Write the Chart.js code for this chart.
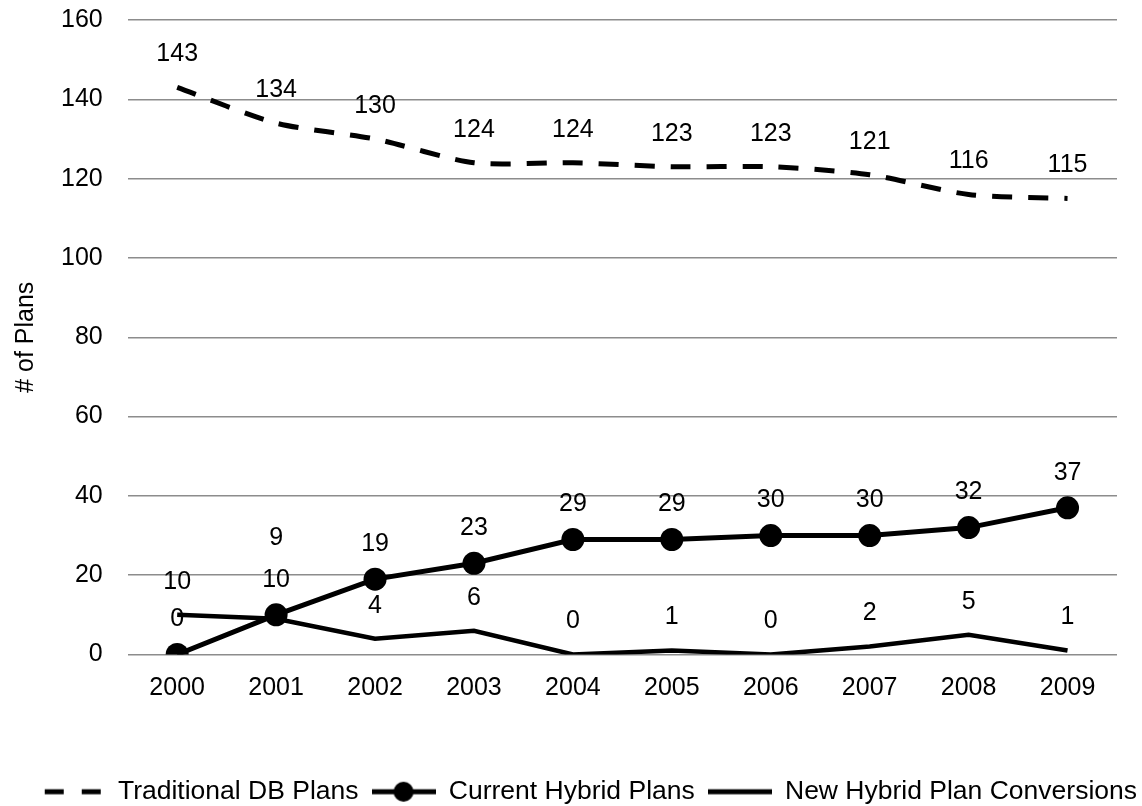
<!DOCTYPE html>
<html>
<head>
<meta charset="utf-8">
<script src="https://cdn.jsdelivr.net/npm/chart.js@4.4.1/dist/chart.umd.min.js"></script>
<style>
  html, body { margin: 0; padding: 0; background: #fff; }
  #wrap { width: 1142px; height: 806px; position: relative; }
</style>
</head>
<body>
<div id="wrap"><canvas id="c"></canvas></div>
<script>
const years = ['2000','2001','2002','2003','2004','2005','2006','2007','2008','2009'];
const traditionalDB = [143,134,130,124,124,123,123,121,116,115];
const currentHybrid = [0,10,19,23,29,29,30,30,32,37];
const newConversions = [10,9,4,6,0,1,0,2,5,1];
const yTicks = [0,20,40,60,80,100,120,140,160];

const FONT = '"Liberation Sans", Arial, sans-serif';
const FS = 25;
const LEG_FS = 26.5;

function makeSample(kind) {
  const w = 64, h = 24;
  const cv = document.createElement('canvas');
  cv.width = w; cv.height = h;
  const g = cv.getContext('2d');
  g.strokeStyle = '#000'; g.fillStyle = '#000';
  g.beginPath();
  if (kind === 'dash') {
    g.lineWidth = 5;
    g.setLineDash([19, 18]);
    g.moveTo(4, h/2); g.lineTo(w, h/2);
    g.stroke();
  } else if (kind === 'dot') {
    g.lineWidth = 5;
    g.moveTo(0, h/2); g.lineTo(w, h/2); g.stroke();
    g.beginPath(); g.arc(w/2, h/2, 10, 0, Math.PI*2); g.fill();
  } else {
    g.lineWidth = 5;
    g.moveTo(0, h/2); g.lineTo(w, h/2); g.stroke();
  }
  return cv;
}
const samples = [makeSample('dash'), makeSample('dot'), makeSample('solid')];

const labelLift = { base: [33, 35, 33], extra: { '2:1': 48 } };

const valueLabels = {
  id: 'valueLabels',
  afterDatasetsDraw(chart) {
    const ctx = chart.ctx;
    ctx.save();
    ctx.font = FS + 'px ' + FONT;
    ctx.fillStyle = '#000';
    ctx.textAlign = 'center';
    ctx.textBaseline = 'middle';
    chart.data.datasets.forEach((ds, di) => {
      const meta = chart.getDatasetMeta(di);
      meta.data.forEach((pt, i) => {
        const lift = labelLift.base[di] + (labelLift.extra[di + ':' + i] || 0);
        ctx.fillText(String(ds.data[i]), pt.x, pt.y - lift);
      });
    });
    ctx.restore();
  }
};

new Chart(document.getElementById('c'), {
  type: 'line',
  data: {
    labels: years,
    datasets: [
      {
        label: 'Traditional DB Plans',
        data: traditionalDB,
        borderColor: '#000',
        borderWidth: 5,
        borderDash: [20, 16],
        tension: 0.25,
        pointRadius: 0,
        fill: false
      },
      {
        label: 'Current Hybrid Plans',
        data: currentHybrid,
        borderColor: '#000',
        backgroundColor: '#000',
        borderWidth: 5,
        tension: 0,
        pointRadius: 11.5,
        pointBackgroundColor: '#000',
        pointBorderWidth: 0,
        fill: false
      },
      {
        label: 'New Hybrid Plan Conversions',
        data: newConversions,
        borderColor: '#000',
        borderWidth: 4.5,
        tension: 0,
        pointRadius: 0,
        fill: false
      }
    ]
  },
  options: {
    responsive: true,
    maintainAspectRatio: false,
    animation: false,
    layout: { padding: { top: 20, right: -8, left: 11, bottom: -9 } },
    plugins: {
      tooltip: { enabled: false },
      legend: {
        position: 'bottom',
        align: 'end',
        labels: {
          usePointStyle: true,
          pointStyleWidth: 64,
          boxHeight: 24,
          padding: 13,
          color: '#000',
          font: { family: FONT, size: LEG_FS },
          generateLabels(chart) {
            return chart.data.datasets.map((ds, i) => ({
              text: ds.label,
              pointStyle: samples[i],
              datasetIndex: i,
              fontColor: '#000',
              lineWidth: 0,
              strokeStyle: 'transparent',
              fillStyle: 'transparent',
              hidden: false
            }));
          }
        }
      }
    },
    scales: {
      x: {
        offset: true,
        grid: { display: false, drawTicks: false },
        border: { display: false },
        ticks: { color: '#000', font: { family: FONT, size: FS }, padding: 19 },
        afterFit(scale) { scale.height += 43; scale.paddingRight = 25; }
      },
      y: {
        min: 0,
        max: 160,
        afterBuildTicks(scale) { scale.ticks = yTicks.map(v => ({ value: v })); },
        grid: { color: '#8c8c8c', lineWidth: 1.5, drawTicks: true, tickLength: 25, tickColor: 'rgba(0,0,0,0)' },
        border: { display: false },
        ticks: { color: '#000', font: { family: FONT, size: FS }, padding: 0 },
        title: {
          display: true,
          text: '# of Plans',
          color: '#000',
          font: { family: FONT, size: FS },
          padding: { top: 0, bottom: 20 }
        }
      }
    }
  },
  plugins: [valueLabels]
});
</script>
</body>
</html>
